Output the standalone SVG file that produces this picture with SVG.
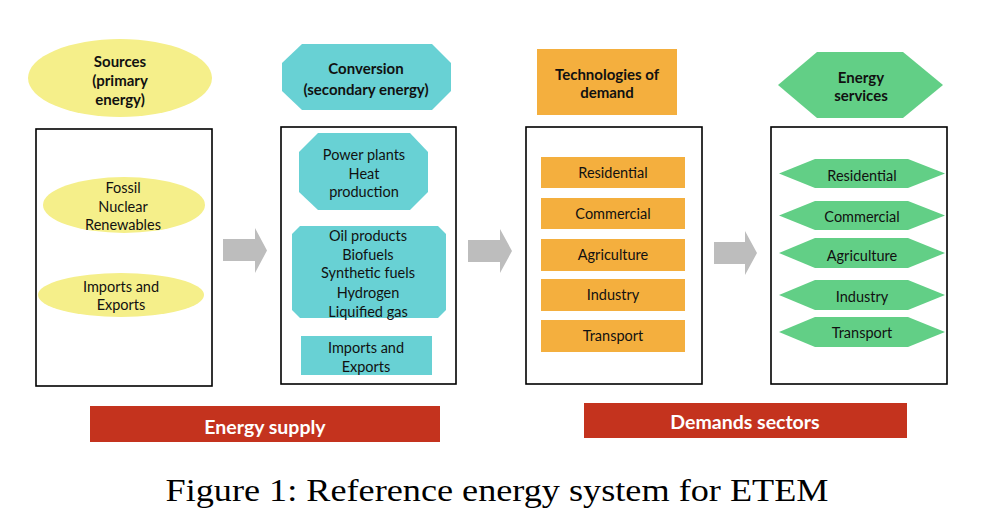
<svg xmlns="http://www.w3.org/2000/svg" width="1000" height="527" viewBox="0 0 1000 527">
<style>
text{font-family:Lato,"Open Sans","Liberation Sans",sans-serif;font-size:14.5px;fill:#111;text-anchor:middle}
.h{font-weight:bold;font-size:15px}
.w{fill:#fff;font-weight:bold;font-size:19.5px}
.cap{font-family:"Liberation Serif","DejaVu Serif",serif;font-size:31px;fill:#000}
.frame{fill:#fff;stroke:#000;stroke-width:1.6}
.y{fill:#f5ef8a}
.t{fill:#68d1d4}
.o{fill:#f4af3e}
.g{fill:#62cf86}
.r{fill:#c4331e}
.arr{fill:#bdbdbd}
</style>
<rect width="1000" height="527" fill="#fff"/>

<g id="connectors">
<polygon class="arr" points="223,239 255,239 255,228 267,250.5 255,273 255,261 223,261"/>
<polygon class="arr" points="468,240 500,240 500,229 512,251 500,273 500,262 468,262"/>
<polygon class="arr" points="714,242 745,242 745,231 757,253 745,275 745,264 714,264"/>
</g>

<g id="sources">
<ellipse class="y" cx="120" cy="78" rx="92" ry="39"/>
<text class="h" x="120" y="67">Sources</text>
<text class="h" x="120" y="86">(primary</text>
<text class="h" x="120" y="105">energy)</text>
</g>
<g id="sources-box">
<rect class="frame" x="36" y="129" width="176" height="257"/>
</g>
<g id="fossil">
<ellipse class="y" cx="124" cy="205" rx="81" ry="28"/>
<text x="123" y="193">Fossil</text>
<text x="123" y="212">Nuclear</text>
<text x="123" y="230">Renewables</text>
</g>
<g id="primary-imports">
<ellipse class="y" cx="121" cy="295" rx="83" ry="22"/>
<text x="121" y="292">Imports and</text>
<text x="121" y="310">Exports</text>
</g>

<g id="conversion">
<polygon class="t" points="302,44 432,44 451,63 451,91 432,110 302,110 282,91 282,63"/>
<text class="h" x="366" y="74">Conversion</text>
<text class="h" x="366" y="95">(secondary energy)</text>
</g>
<g id="conversion-box">
<rect class="frame" x="281" y="127" width="175" height="257"/>
</g>
<g id="power-plants">
<polygon class="t" points="318,133 410,133 428,152 428,192 410,210 318,210 299,192 299,152"/>
<text x="364" y="160">Power plants</text>
<text x="364" y="179">Heat</text>
<text x="364" y="197">production</text>
</g>
<g id="fuels">
<polygon class="t" points="300,226 438,226 446,234 446,310 438,318 300,318 292,310 292,234"/>
<text x="368" y="241">Oil products</text>
<text x="368" y="260">Biofuels</text>
<text x="368" y="278">Synthetic fuels</text>
<text x="368" y="298">Hydrogen</text>
<text x="368" y="317">Liquified gas</text>
</g>
<g id="secondary-imports">
<rect class="t" x="301" y="336" width="131" height="39"/>
<text x="366" y="353">Imports and</text>
<text x="366" y="372">Exports</text>
</g>

<g id="technologies">
<rect class="o" x="537" y="49" width="140" height="66"/>
<text class="h" x="607" y="80">Technologies of</text>
<text class="h" x="607" y="98">demand</text>
</g>
<g id="technologies-box">
<rect class="frame" x="526" y="127" width="176" height="257"/>
</g>
<g id="tech-residential"><rect class="o" x="541" y="157" width="144" height="31"/><text x="613" y="177.5">Residential</text></g>
<g id="tech-commercial"><rect class="o" x="541" y="198" width="144" height="31"/><text x="613" y="218.5">Commercial</text></g>
<g id="tech-agriculture"><rect class="o" x="541" y="239" width="144" height="32"/><text x="613" y="260">Agriculture</text></g>
<g id="tech-industry"><rect class="o" x="541" y="279" width="144" height="32"/><text x="613" y="300">Industry</text></g>
<g id="tech-transport"><rect class="o" x="541" y="320" width="144" height="32"/><text x="613" y="341">Transport</text></g>

<g id="services">
<polygon class="g" points="817,52 903,52 943,85 903,118 817,118 778,85"/>
<text class="h" x="861" y="83">Energy</text>
<text class="h" x="861" y="101">services</text>
</g>
<g id="services-box">
<rect class="frame" x="771" y="127" width="176" height="257"/>
</g>
<g id="svc-residential"><polygon class="g" points="815,159 908,159 945,173.5 908,188 815,188 779,173.5"/><text x="862" y="181">Residential</text></g>
<g id="svc-commercial"><polygon class="g" points="815,201 908,201 945,215.5 908,230 815,230 779,215.5"/><text x="862" y="222">Commercial</text></g>
<g id="svc-agriculture"><polygon class="g" points="815,238 908,238 945,253 908,268 815,268 779,253"/><text x="862" y="261">Agriculture</text></g>
<g id="svc-industry"><polygon class="g" points="815,280 908,280 945,295 908,310 815,310 779,295"/><text x="862" y="302">Industry</text></g>
<g id="svc-transport"><polygon class="g" points="815,317 908,317 945,332 908,347 815,347 779,332"/><text x="862" y="338">Transport</text></g>

<g id="energy-supply">
<rect class="r" x="90" y="406" width="350" height="36"/>
<text class="w" x="265" y="434">Energy supply</text>
</g>
<g id="demand-sectors">
<rect class="r" x="584" y="403" width="323" height="35"/>
<text class="w" x="745" y="429">Demands sectors</text>
</g>

<text class="cap" x="497" y="501" textLength="663" lengthAdjust="spacingAndGlyphs">Figure 1: Reference energy system for ETEM</text>
</svg>
